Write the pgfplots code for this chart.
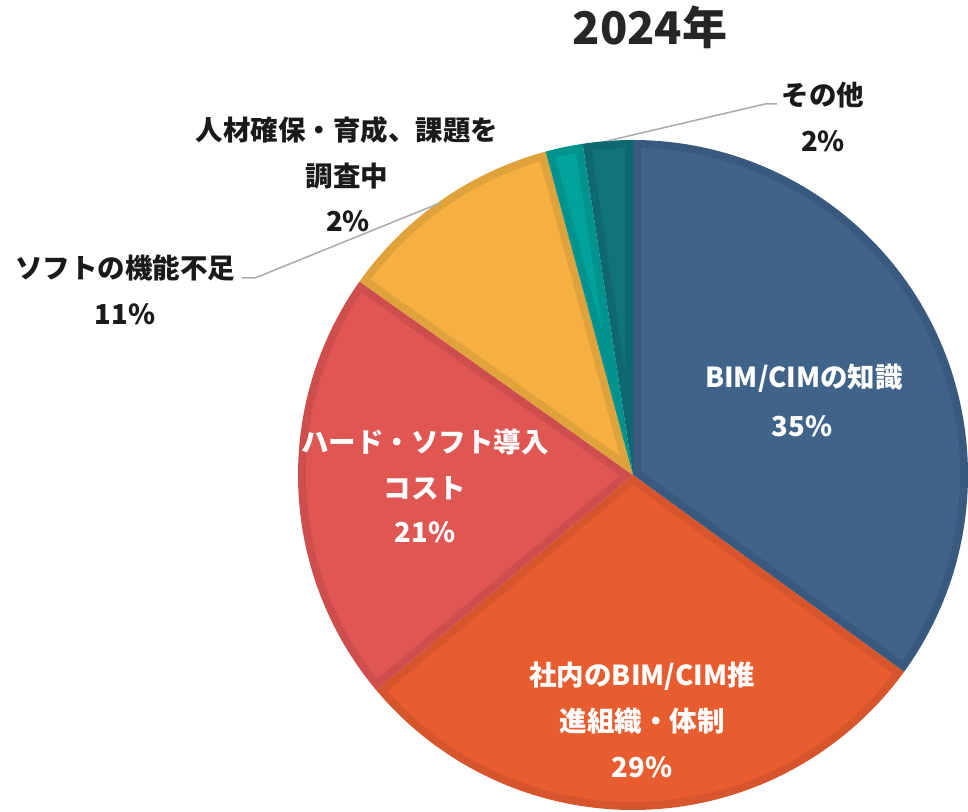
\documentclass[border=0pt]{standalone}
\usepackage{pgfplots}
\pgfplotsset{compat=1.18}
\usepackage{fontspec}
\setmainfont{Noto Sans CJK JP}
\definecolor{cBlue}{RGB}{64,100,137}
\definecolor{cBlueD}{RGB}{57,90,126}
\definecolor{cOrange}{RGB}{232,93,48}
\definecolor{cOrangeD}{RGB}{214,85,44}
\definecolor{cRed}{RGB}{224,86,83}
\definecolor{cRedD}{RGB}{205,78,76}
\definecolor{cYellow}{RGB}{245,176,65}
\definecolor{cYellowD}{RGB}{224,163,60}
\definecolor{cTeal}{RGB}{0,162,156}
\definecolor{cTealD}{RGB}{0,146,141}
\definecolor{cDTeal}{RGB}{17,116,125}
\definecolor{cDTealD}{RGB}{14,104,113}
\definecolor{cLead}{RGB}{170,170,170}
\definecolor{cText}{RGB}{26,26,26}
\def\cx{633}\def\cy{337}\def\rr{335}\def\bw{8}
% #1 start percent, #2 value percent, #3 fill, #4 border
\newcommand{\pieslice}[4]{%
  \pgfmathsetmacro{\aA}{90-3.6*(#1+#2)}%
  \pgfmathsetmacro{\aB}{90-3.6*#1}%
  \pgfmathsetmacro{\hh}{(\aB-\aA)/2}%
  \pgfmathsetmacro{\mm}{(\aB+\aA)/2}%
  \pgfmathsetmacro{\dd}{\bw/sin(\hh)}%
  \pgfmathsetmacro{\px}{\cx+\dd*cos(\mm)}%
  \pgfmathsetmacro{\py}{\cy+\dd*sin(\mm)}%
  \pgfmathsetmacro{\RR}{\rr-\bw}%
  \pgfmathsetmacro{\de}{asin(\bw/\RR)}%
  \pgfmathsetmacro{\iA}{\aA+\de}%
  \pgfmathsetmacro{\iB}{\aB-\de}%
  \edef\doslice{%
    \noexpand\addplot[fill=#4, draw=none, domain=\aA:\aB, samples=120]
      ({\cx+\rr*cos(x)},{\cy+\rr*sin(x)}) -- (axis cs:\cx,\cy) -- cycle;
    \noexpand\addplot[fill=#3, draw=none, domain=\iA:\iB, samples=120]
      ({\cx+\RR*cos(x)},{\cy+\RR*sin(x)}) -- (axis cs:\px,\py) -- cycle;
  }\doslice
}
\begin{document}
\begin{tikzpicture}
\begin{axis}[name=ax, scale only axis, width=484pt, height=406pt,
  xmin=0, xmax=968, ymin=0, ymax=812, hide axis, clip=false]
% values (percent): 35.0, 28.9, 20.9, 11.0, 1.8, 2.4
\pieslice{0}{35.0}{cBlue}{cBlueD}
\pieslice{35.0}{28.9}{cOrange}{cOrangeD}
\pieslice{63.9}{20.9}{cRed}{cRedD}
\pieslice{84.8}{11.0}{cYellow}{cYellowD}
\pieslice{95.8}{1.8}{cTeal}{cTealD}
\pieslice{97.6}{2.4}{cDTeal}{cDTealD}
% leader lines
\addplot[draw=cLead, line width=0.75pt] coordinates {(242,534) (255,534) (440,609)};
\addplot[draw=cLead, line width=0.75pt] coordinates {(777,708) (765,708) (607,671)};
% title
\node[anchor=base, font=\fontsize{22.5}{26}\selectfont\bfseries, text={rgb,255:red,38;green,38;blue,38}] at (axis cs:650,767) {2024年};
% in-slice labels
\tikzset{lab/.style={anchor=base, inner sep=0pt, font=\fontsize{13.75}{16}\selectfont\bfseries}}
\node[lab, text=white] at (axis cs:804,424) {BIM/CIMの知識};
\node[lab, text=white] at (axis cs:802,375) {35\%};
\node[lab, text=white] at (axis cs:642,126) {社内のBIM/CIM推};
\node[lab, text=white] at (axis cs:642,80) {進組織・体制};
\node[lab, text=white] at (axis cs:642,34) {29\%};
\node[lab, text=white] at (axis cs:425,359) {ハード・ソフト導入};
\node[lab, text=white] at (axis cs:425,313) {コスト};
\node[lab, text=white] at (axis cs:425,269) {21\%};
% outside labels
\node[lab, text=cText] at (axis cs:125,533) {ソフトの機能不足};
\node[lab, text=cText] at (axis cs:125,487) {11\%};
\node[lab, text=cText] at (axis cs:347,671) {人材確保・育成、課題を};
\node[lab, text=cText] at (axis cs:347,625) {調査中};
\node[lab, text=cText] at (axis cs:348,580) {2\%};
\node[lab, text=cText] at (axis cs:823,706) {その他};
\node[lab, text=cText] at (axis cs:823,660) {2\%};
\end{axis}
\pgfresetboundingbox
\useasboundingbox (ax.south west) rectangle (ax.north east);
\end{tikzpicture}
\end{document}
